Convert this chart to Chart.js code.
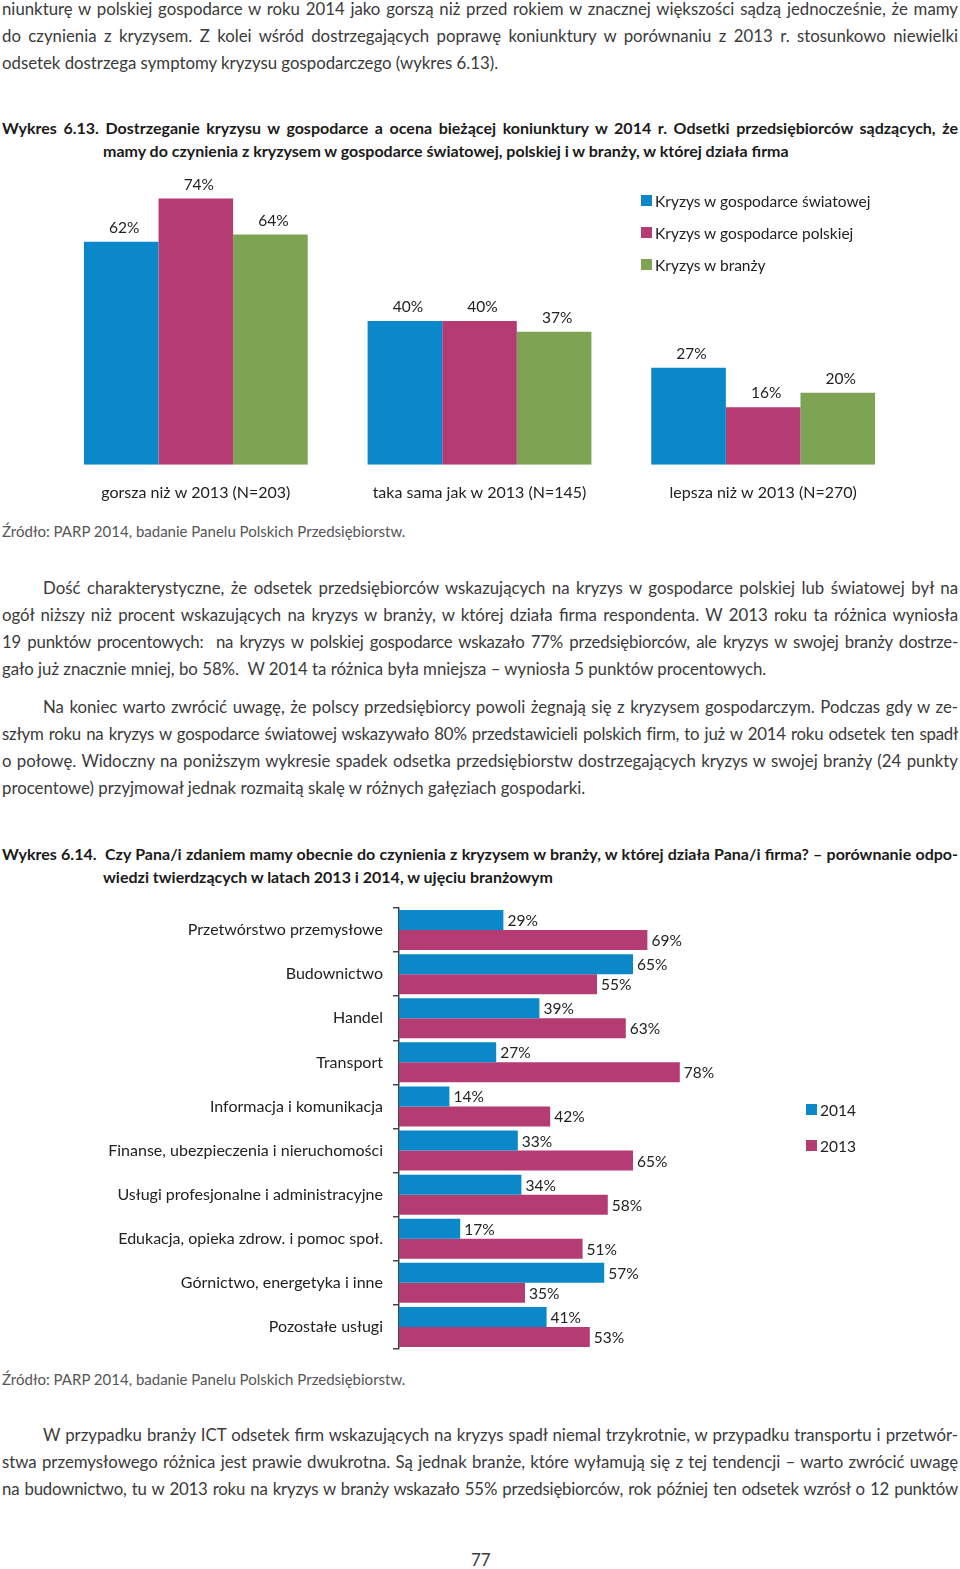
<!DOCTYPE html>
<html lang="pl">
<head>
<meta charset="utf-8">
<title>Wykres 6.13 i 6.14</title>
<script src="https://cdn.jsdelivr.net/npm/chart.js@4.4.1/dist/chart.umd.min.js"></script>
<style>
  html, body { margin: 0; padding: 0; background: #fff; }
  #page { position: relative; width: 960px; height: 1569px; overflow: hidden;
    font-family: Lato, "Open Sans", sans-serif; color: #3a3a3a; }
  .ln { position: absolute; white-space: nowrap; font-size: 16.8px; font-weight: 400;
    line-height: 20px; height: 20px; }
  .j { text-align: justify; text-align-last: justify; }
  .tight { letter-spacing: -0.2px; }
  .t { font-weight: 700; font-size: 16px; color: #1a1a1a; }
  .src { font-size: 15px; color: #555; }
  canvas { position: absolute; left: 0; }
  .lg { position: absolute; font-size: 15.5px; color: #222; line-height: 18px; white-space: nowrap; }
  .lg i { position: absolute; left: -14px; top: 3px; width: 11px; height: 11px; }
</style>
</head>
<body>
<div id="page">
  <div class="ln j" style="left:2px;width:956px;top:-1px">niunkturę w polskiej gospodarce w roku 2014 jako gorszą niż przed rokiem w znacznej większości sądzą jednocześnie, że mamy</div>
  <div class="ln j" style="left:2px;width:956px;top:26px">do czynienia z kryzysem. Z kolei wśród dostrzegających poprawę koniunktury w porównaniu z 2013 r. stosunkowo niewielki</div>
  <div class="ln" style="left:2px;top:53px">odsetek dostrzega symptomy kryzysu gospodarczego (wykres 6.13).</div>

  <div class="ln j t" style="left:2px;width:956px;top:118px">Wykres 6.13. Dostrzeganie kryzysu w gospodarce a ocena bieżącej koniunktury w 2014 r. Odsetki przedsiębiorców sądzących, że</div>
  <div class="ln t" style="left:103px;top:141px">mamy do czynienia z kryzysem w gospodarce światowej, polskiej i w branży, w której działa firma</div>

  <canvas id="chart1" width="960" height="350" style="top:170px"></canvas>
  <div id="legend1"></div>

  <div class="ln src" style="left:2px;top:521px">Źródło: PARP 2014, badanie Panelu Polskich Przedsiębiorstw.</div>

  <div class="ln j" style="left:43px;width:915px;top:578px">Dość charakterystyczne, że odsetek przedsiębiorców wskazujących na kryzys w gospodarce polskiej lub światowej był na</div>
  <div class="ln j" style="left:2px;width:956px;top:605px">ogół niższy niż procent wskazujących na kryzys w branży, w której działa firma respondenta. W 2013 roku ta różnica wyniosła</div>
  <div class="ln j tight" style="left:2px;width:956px;top:632px">19 punktów procentowych:&nbsp; na kryzys w polskiej gospodarce wskazało 77% przedsiębiorców, ale kryzys w swojej branży dostrze-</div>
  <div class="ln" style="left:2px;top:659px">gało już znacznie mniej, bo 58%.&nbsp; W 2014 ta różnica była mniejsza – wyniosła 5 punktów procentowych.</div>

  <div class="ln j" style="left:43px;width:915px;top:697px">Na koniec warto zwrócić uwagę, że polscy przedsiębiorcy powoli żegnają się z kryzysem gospodarczym. Podczas gdy w ze-</div>
  <div class="ln j tight" style="left:2px;width:956px;top:724px">szłym roku na kryzys w gospodarce światowej wskazywało 80% przedstawicieli polskich firm, to już w 2014 roku odsetek ten spadł</div>
  <div class="ln j" style="left:2px;width:956px;top:751px">o połowę. Widoczny na poniższym wykresie spadek odsetka przedsiębiorstw dostrzegających kryzys w swojej branży (24 punkty</div>
  <div class="ln" style="left:2px;top:778px">procentowe) przyjmował jednak rozmaitą skalę w różnych gałęziach gospodarki.</div>

  <div class="ln j t" style="left:2px;width:956px;top:844px">Wykres 6.14.&nbsp; Czy Pana/i zdaniem mamy obecnie do czynienia z kryzysem w branży, w której działa Pana/i firma? – porównanie odpo-</div>
  <div class="ln t" style="left:103px;top:867px">wiedzi twierdzących w latach 2013 i 2014, w ujęciu branżowym</div>

  <canvas id="chart2" width="960" height="481" style="top:888px"></canvas>
  <div id="legend2"></div>

  <div class="ln src" style="left:2px;top:1369px">Źródło: PARP 2014, badanie Panelu Polskich Przedsiębiorstw.</div>

  <div class="ln j" style="left:43px;width:915px;top:1425px">W przypadku branży ICT odsetek firm wskazujących na kryzys spadł niemal trzykrotnie, w przypadku transportu i przetwór-</div>
  <div class="ln j" style="left:2px;width:956px;top:1452px">stwa przemysłowego różnica jest prawie dwukrotna. Są jednak branże, które wyłamują się z tej tendencji – warto zwrócić uwagę</div>
  <div class="ln j tight" style="left:2px;width:956px;top:1479px">na budownictwo, tu w 2013 roku na kryzys w branży wskazało 55% przedsiębiorców, rok później ten odsetek wzrósł o 12 punktów</div>

  <div class="ln" style="left:471px;top:1550px;font-size:17px">77</div>
</div>

<script>
// Wykres 6.13
const ocenaKoniunktury = ['gorsza niż w 2013 (N=203)', 'taka sama jak w 2013 (N=145)', 'lepsza niż w 2013 (N=270)'];
const kryzysSwiat = [62, 40, 27];
const kryzysPolska = [74, 40, 16];
const kryzysBranza = [64, 37, 20];
const seriaNazwy1 = ['Kryzys w gospodarce światowej', 'Kryzys w gospodarce polskiej', 'Kryzys w branży'];

// Wykres 6.14
const branze = ['Przetwórstwo przemysłowe', 'Budownictwo', 'Handel', 'Transport', 'Informacja i komunikacja',
  'Finanse, ubezpieczenia i nieruchomości', 'Usługi profesjonalne i administracyjne',
  'Edukacja, opieka zdrow. i pomoc społ.', 'Górnictwo, energetyka i inne', 'Pozostałe usługi'];
const rok2014 = [29, 65, 39, 27, 14, 33, 34, 17, 57, 41];
const rok2013 = [69, 55, 63, 78, 42, 65, 58, 51, 35, 53];
const seriaNazwy2 = ['2014', '2013'];

const BLUE = '#0a88c9';
const PINK = '#b53b73';
const GREEN = '#7ea453';
const FONT = 'Lato, "Open Sans", sans-serif';

Chart.defaults.font.family = FONT;
Chart.defaults.color = '#222';

function buildLegend(id, names, colors, left, tops) {
    const box = document.getElementById(id);
    names.forEach((n, i) => {
        const d = document.createElement('div');
        d.className = 'lg';
        d.style.left = left + 'px';
        d.style.top = tops[i] + 'px';
        d.innerHTML = '<i style="background:' + colors[i] + '"></i>' + n;
        box.appendChild(d);
    });
}
buildLegend('legend1', seriaNazwy1, [BLUE, PINK, GREEN], 655, [192, 224, 256]);
buildLegend('legend2', seriaNazwy2, [BLUE, PINK], 820, [1101, 1137]);

// value labels above vertical bars
const topLabels = {
    id: 'topLabels',
    afterDatasetsDraw(chart) {
        const ctx = chart.ctx;
        ctx.save();
        ctx.font = '15.5px ' + FONT;
        ctx.fillStyle = '#222';
        ctx.textAlign = 'center';
        ctx.textBaseline = 'middle';
        chart.data.datasets.forEach((ds, i) => {
            chart.getDatasetMeta(i).data.forEach((bar, j) => {
                ctx.fillText(ds.data[j] + '%', bar.x + 3, bar.y - 14);
            });
        });
        ctx.restore();
    }
};

// value labels right of horizontal bars
const endLabels = {
    id: 'endLabels',
    afterDatasetsDraw(chart) {
        const ctx = chart.ctx;
        ctx.save();
        ctx.font = '15.5px ' + FONT;
        ctx.fillStyle = '#222';
        ctx.textAlign = 'left';
        ctx.textBaseline = 'middle';
        chart.data.datasets.forEach((ds, i) => {
            chart.getDatasetMeta(i).data.forEach((bar, j) => {
                ctx.fillText(ds.data[j] + '%', bar.x + 4, bar.y + 1);
            });
        });
        ctx.restore();
    }
};

new Chart(document.getElementById('chart1'), {
    type: 'bar',
    data: {
        labels: ocenaKoniunktury,
        datasets: [
            { label: seriaNazwy1[0], data: kryzysSwiat, backgroundColor: BLUE },
            { label: seriaNazwy1[1], data: kryzysPolska, backgroundColor: PINK },
            { label: seriaNazwy1[2], data: kryzysBranza, backgroundColor: GREEN }
        ]
    },
    options: {
        responsive: false,
        animation: false,
        layout: { padding: { left: 54, right: 55, top: 7, bottom: 0 } },
        datasets: { bar: { categoryPercentage: 0.789, barPercentage: 1 } },
        plugins: { legend: { display: false }, tooltip: { enabled: false } },
        scales: {
            x: {
                grid: { display: false, drawTicks: false },
                border: { display: false },
                ticks: { padding: 18, font: { size: 16 }, color: '#222' }
            },
            y: { display: false, min: 0, max: 80 }
        }
    },
    plugins: [topLabels]
});

new Chart(document.getElementById('chart2'), {
    type: 'bar',
    data: {
        labels: branze,
        datasets: [
            { label: seriaNazwy2[0], data: rok2014, backgroundColor: BLUE },
            { label: seriaNazwy2[1], data: rok2013, backgroundColor: PINK }
        ]
    },
    options: {
        indexAxis: 'y',
        responsive: false,
        animation: false,
        layout: { padding: { left: 0, right: 201, top: 20, bottom: 20 } },
        datasets: { bar: { categoryPercentage: 0.907, barPercentage: 1 } },
        plugins: { legend: { display: false }, tooltip: { enabled: false } },
        scales: {
            x: { display: false, min: 0, max: 100 },
            y: {
                afterFit(scale) { scale.width = 399; },
                grid: { drawOnChartArea: false, drawTicks: true, tickLength: 6, color: '#444', lineWidth: 1.5 },
                border: { display: true, color: '#444', width: 1.5 },
                ticks: { padding: 10, font: { size: 16 }, color: '#222' }
            }
        }
    },
    plugins: [endLabels]
});
</script>
</body>
</html>
